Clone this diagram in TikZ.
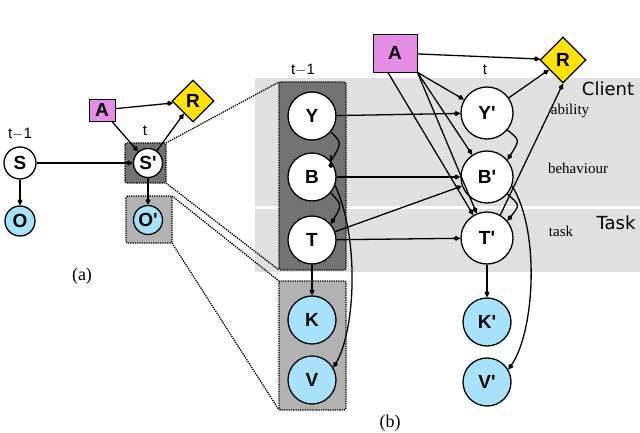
\documentclass[tikz,border=0pt]{standalone}
\usepackage{fontspec}
\setmainfont{Liberation Serif}
\newfontfamily\sansf{Liberation Sans}
\newfontfamily\sansg{DejaVu Sans}
\usetikzlibrary{arrows.meta,shapes.geometric}
\begin{document}
\begin{tikzpicture}[x=1pt,y=-1pt,
 tip/.style={-{Kite[length=7pt,width=5pt,inset=2.5pt]}},
 e/.style={draw,line width=1.3pt,tip},
 var/.style={circle,draw,line width=1.3pt,fill=white,font=\sansf\bfseries\fontsize{19}{19}\selectfont,inner sep=0pt},
 obs/.style={var,fill=cyan!35},
 act/.style={draw,line width=0.9pt,fill=violet!45!magenta!45,font=\sansf\bfseries\fontsize{19}{19}\selectfont,inner sep=0pt},
 rew/.style={diamond,draw,line width=1.3pt,fill=yellow!85!orange,font=\sansf\bfseries\fontsize{19}{19}\selectfont,inner sep=0pt},
 bx/.style={draw,densely dotted,line width=1.3pt,rounded corners=2pt},
 dl/.style={densely dotted,line width=1.3pt},
 lab/.style={font=\sansf\fontsize{15}{15}\selectfont}]
\useasboundingbox (0,0) rectangle (640,433);
\fill[black!12] (255,78) rectangle (640,206);
\fill[black!12] (255,209) rectangle (640,272);
\node[font=\sansg\fontsize{18}{18}\selectfont] (cl) at (608,89) {Client};
\node[font=\sansg\fontsize{18}{18}\selectfont] (tk) at (616,223) {Task};
\node[font=\fontsize{15}{15}\selectfont] (ab) at (570,111) {ability};
\node[font=\fontsize{15}{15}\selectfont] (be) at (578,168) {behaviour};
\node[font=\fontsize{15}{15}\selectfont] (ta) at (561,231) {task};
% (a)
\node[var,minimum size=32pt] (S) at (20,163) {S};
\node[obs,minimum size=30pt] (O) at (20,221) {O};
\node[lab] (tm1a) at (20,134) {t$-$1};
\node[act,minimum width=26pt,minimum height=22pt] (A) at (102,110) {A};
\node[rew,minimum size=42pt] (R) at (193,101) {R};
\draw[bx,fill=black!55] (125,143) rectangle (166,183);
\draw[bx,fill=black!30] (126,196) rectangle (172,243);
\node[var,minimum size=29pt] (Sp) at (148,163) {S'};
\node[obs,minimum size=29pt] (Op) at (148,220) {O'};
\node[lab] (ta1) at (145,131) {t};
\node[font=\fontsize{18}{18}\selectfont] (la) at (82,276) {(a)};
\draw[e] (S) -- (Sp); \draw[e] (S) -- (O); \draw[e] (A) -- (Sp);
\draw[e] (A) -- (R); \draw[e] (Sp) -- (R); \draw[e] (Sp) -- (Op);
% (b) middle
\draw[bx,fill=black!55] (279,82) rectangle (346,270);
\draw[bx,fill=black!30] (279,281) rectangle (346,410);
\node[lab] (tm1b) at (303,70) {t$-$1};
\node[var,minimum size=48pt] (Y) at (312,116) {Y};
\node[var,minimum size=48pt] (B) at (312,177) {B};
\node[var,minimum size=48pt] (T) at (312,240) {T};
\node[obs,minimum size=48pt] (K) at (312,320) {K};
\node[obs,minimum size=48pt] (V) at (312,380) {V};
\draw[dl] (166,143) -- (279,82); \draw[dl] (166,183) -- (279,270);
\draw[dl] (172,196) -- (279,281); \draw[dl] (172,243) -- (279,410);
% right
\node[act,minimum width=44pt,minimum height=38pt] (A2) at (395,53) {A};
\node[rew,minimum size=46pt] (R2) at (563,60) {R};
\node[lab] (tb) at (485,70) {t};
\node[var,minimum size=52pt] (Yp) at (487,113) {Y'};
\node[var,minimum size=52pt] (Bp) at (487,177) {B'};
\node[var,minimum size=52pt] (Tp) at (487,238) {T'};
\node[obs,minimum size=48pt] (Kp) at (487,322) {K'};
\node[obs,minimum size=48pt] (Vp) at (487,382) {V'};
\node[font=\fontsize{18}{18}\selectfont] (lb) at (390,423) {(b)};
\draw[e] (Y.-40) .. controls (342,143) .. (Y.-40 |- B.40) -- (B.40);
\draw[e] (B.-40) .. controls (342,205) .. (T.40);
\draw[e] (T) -- (K);
\draw[e] (B.-20) .. controls (360,240) and (355,330) .. (V.30);
\draw[e] (Y) -- (Yp); \draw[e] (B) -- (Bp); \draw[e] (T) -- (Bp); \draw[e] (T) -- (Tp);
\draw[e] (A2) -- (R2);
\draw[e] (A2.south east) -- (Yp); \draw[e] (A2.south east) -- (Bp);
\draw[e] (A2.south east) -- (Tp); \draw[e] (A2.-110) -- (Tp);
\draw[e] (Yp) -- (R2); \draw[e] (Tp.60) -- (R2.south);
\draw[e] (Yp.-40) .. controls (520,140) .. (Bp.40);
\draw[e] (Bp.-40) .. controls (520,205) .. (Tp.40);
\draw[e] (Tp) -- (Kp);
\draw[e] (Bp.-20) .. controls (540,230) and (535,330) .. (Vp.30);
\end{tikzpicture}
\end{document}
